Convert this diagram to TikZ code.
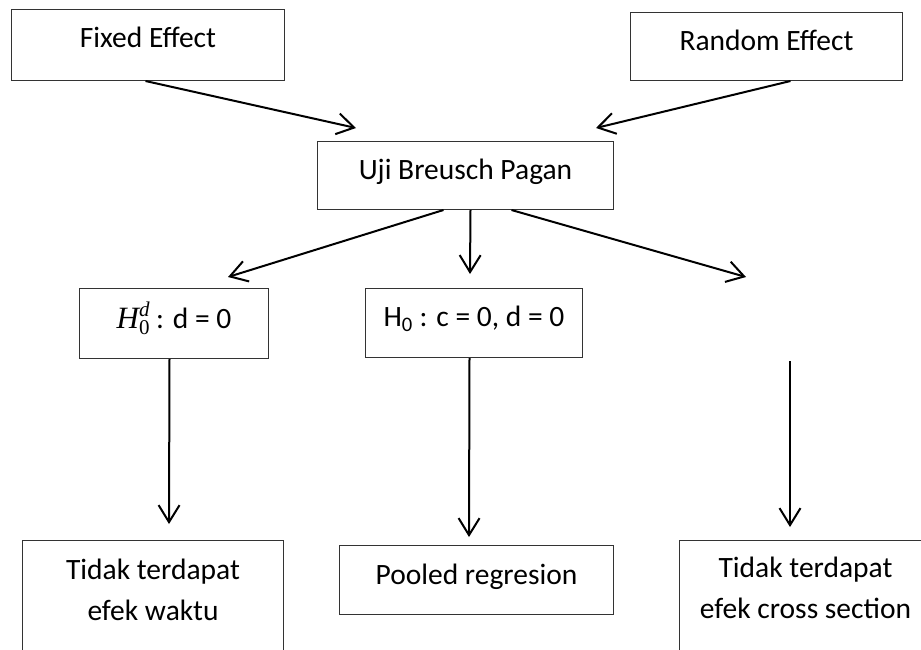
\documentclass[tikz,border=0pt]{standalone}
\usepackage{fontspec}
\setmainfont{Carlito}
\newfontfamily\mfont{Liberation Serif}
\usetikzlibrary{arrows.meta,calc}
\newcommand{\twolines}[2]{\begin{tabular}[t]{@{}c@{}}#1\\#2\end{tabular}}
\newcommand{\hzerod}{$\hbox{\fontsize{31}{31}\selectfont\mfont\itshape H}^{\hbox{\fontsize{21}{21}\selectfont\mfont\itshape d}}_{\hbox{\fontsize{21}{21}\selectfont\mfont 0}}$}
\tikzset{
  box/.style={draw=black!80, line width=1pt, inner sep=0pt, anchor=north west,
    font=\fontsize{29.5}{41}\selectfont, text=black},
  flow/.style={line width=2pt, -{Straight Barb[length=17pt,width=21pt]}},
}
\begin{document}
\begin{tikzpicture}[x=1pt,y=-1pt]
\clip (0,0) rectangle (921,649);
\fill[white] (0,0) rectangle (921,649);
% boxes
\node[box, minimum width=273pt, text height=38pt, text depth=33pt] (fe) at (11,9) {Fixed Effect};
\node[box, minimum width=272pt, text height=38pt, text depth=30pt] (re) at (630,12) {Random Effect};
\node[box, minimum width=296pt, text height=38pt, text depth=30pt] (ub) at (317,141) {Uji Breusch Pagan};
\node[box, minimum width=189pt, text height=40pt, text depth=30pt] (hd) at (79,288) {\hzerod\hspace{6pt}: d = 0};
\node[box, minimum width=217pt, text height=38pt, text depth=31pt] (hc) at (365,288) {H\textsubscript{0} : c = 0, d = 0};
\node[box, minimum width=274pt, text height=39pt, text depth=30pt] (pr) at (339,545) {Pooled regresion};
\node[box, minimum width=261pt, text height=39pt, text depth=100pt] (tw) at (22,540) {\twolines{Tidak terdapat}{efek waktu}};
\node[box, minimum width=252pt, text height=37pt, text depth=100pt] (tc) at (679,540) {\twolines{Tidak terdapat}{efek cross section}};
% free ends
\coordinate (tfe) at (356,128);
\coordinate (tre) at (596,128);
\coordinate (tl) at (228,277);
\coordinate (tm) at (470,274);
\coordinate (tr) at (746,277);
\coordinate (rs) at (790,361);
\coordinate (td) at (169,524);
\coordinate (tp) at (469,537);
\coordinate (tx) at (790,527);
% connectors
\draw[flow] ([xshift=-2.5pt]fe.south) -- (tfe);
\draw[flow] ([xshift=24pt]re.south) -- (tre);
\draw[flow] ([xshift=-22pt]ub.south) -- (tl);
\draw[flow] ([xshift=5pt]ub.south) -- (tm);
\draw[flow] ([xshift=46pt]ub.south) -- (tr);
\draw[flow] ([xshift=-4.5pt]hd.south) -- (td);
\draw[flow] ([xshift=-4.5pt]hc.south) -- (tp);
\draw[flow] (rs) -- (tx);
\end{tikzpicture}
\end{document}
